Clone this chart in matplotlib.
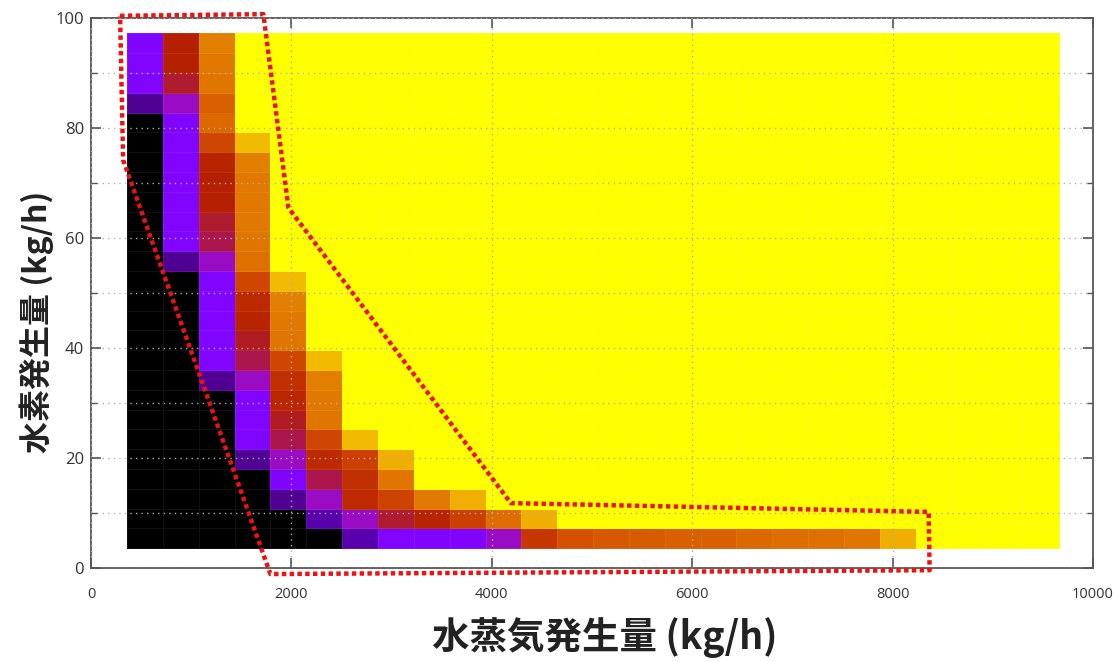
import matplotlib
matplotlib.use("Agg")
import matplotlib.pyplot as plt
import numpy as np

# bin edges of the map (steam kg/h, hydrogen kg/h)
steam_edges = [360, 718, 1075, 1433, 1791, 2148, 2506, 2864, 3222, 3579, 3937,
               4295, 4652, 5010, 5368, 5726, 6083, 6441, 6799, 7156, 7514,
               7872, 8229, 8587, 8945, 9303, 9660]
hydrogen_edges = [3.6, 7.2, 10.8, 14.4, 18.0, 21.6, 25.2, 28.8, 32.4, 36.0,
                  39.6, 43.2, 46.8, 50.4, 54.0, 57.6, 61.2, 64.8, 68.4, 72.0,
                  75.6, 79.2, 82.8, 86.4, 90.0, 93.6, 97.2]

# palette level of each cell, per steam column, listed from the lowest hydrogen
# row upward; rows not listed are at the top of the palette (yellow)
col_levels = [
    [0] * 22 + [0.1, 0.25, 0.25, 0.25],
    [0] * 14 + [0.1] + [0.25] * 7 + [0.36, 0.47, 0.5, 0.5],
    [0] * 8 + [0.1] + [0.25] * 5 + [0.36, 0.45, 0.47, 0.5, 0.5, 0.52, 0.65,
                                    0.74, 0.72, 0.77, 0.78, 0.79],
    [0] * 4 + [0.1] + [0.25] * 3 + [0.36, 0.45, 0.48, 0.52, 0.55, 0.65, 0.76,
                                    0.77, 0.78, 0.78, 0.78, 0.79, 0.9],
    [0, 0, 0.1, 0.25, 0.36, 0.45, 0.48, 0.53, 0.57, 0.65, 0.77, 0.78, 0.79, 0.9],
    [0, 0.12, 0.36, 0.45, 0.55, 0.65, 0.77, 0.78, 0.79, 0.9],
    [0.12, 0.36, 0.55, 0.57, 0.63, 0.9],
    [0.25, 0.47, 0.64, 0.77, 0.88],
    [0.25, 0.52, 0.78],
    [0.25, 0.63, 0.88],
    [0.36, 0.75],
    [0.6, 0.88],
    [0.68],
    [0.7],
    [0.71],
    [0.72],
    [0.72],
    [0.74],
    [0.75],
    [0.76],
    [0.77],
    [0.88],
    [], [], [], [],
]

# hand-drawn dotted outline (steam, hydrogen)
outline_steam = [290, 1720, 1970, 4190, 8360, 8370, 1790, 320, 290]
outline_h2 = [100.4, 100.7, 65.5, 11.8, 10.2, -0.4, -1.1, 74.2, 100.4]

n_rows = len(hydrogen_edges) - 1
grid = np.ones((n_rows, len(col_levels)))
for j, col in enumerate(col_levels):
    grid[:len(col), j] = col

plt.rcParams["font.family"] = ["Open Sans", "DejaVu Sans"]

fig = plt.figure(figsize=(11.13, 6.62), dpi=100)
ax = fig.add_axes([0.0818, 0.142, 0.9002, 0.8308])

ax.pcolormesh(steam_edges, hydrogen_edges, grid, cmap="gnuplot", vmin=0, vmax=1,
              edgecolors=(1, 1, 1, 0.07), linewidth=0.6, zorder=1)

ax.set_xlim(0, 10000)
ax.set_ylim(0, 100)
ax.set_xticks(np.arange(0, 10001, 2000))
ax.set_yticks(np.arange(0, 101, 20))
ax.set_yticks(np.arange(10, 100, 20), minor=True)

ax.grid(True, which="both", color="#b0b0b0", linestyle=(0, (1, 3)), linewidth=1.0)
ax.grid(False, which="minor", axis="x")
ax.set_axisbelow(False)
for gl in ax.get_xgridlines() + ax.get_ygridlines():
    gl.set_zorder(2)

ax.tick_params(which="major", direction="in", length=7, width=1.2, color="#555555",
               top=True, right=True)
ax.tick_params(which="minor", direction="in", length=4, width=1.0, color="#555555",
               right=True)
ax.tick_params(axis="x", pad=14, labelsize=10.5, labelcolor="#333333")
ax.tick_params(axis="y", pad=5, labelsize=12, labelcolor="#333333")
for sp in ax.spines.values():
    sp.set_color("#555555")
    sp.set_linewidth(1.3)

ax.plot(outline_steam, outline_h2, color="#ee1111", linewidth=3.2,
        linestyle=(0, (1, 0.75)), clip_on=False, zorder=5)

cjk = ["Noto Sans CJK JP", "DejaVu Sans"]
ax.set_xlabel("水蒸気発生量 (kg/h)", family=cjk, fontsize=27, fontweight="bold",
              color="#222222")
ax.set_ylabel("水素発生量 (kg/h)", family=cjk, fontsize=23, fontweight="bold",
              color="#222222")
ax.xaxis.label.set_va("center")
ax.yaxis.label.set_va("center")
ax.xaxis.set_label_coords(0.513, -0.127)
ax.yaxis.set_label_coords(-0.054, 0.447)

fig.savefig("out.png", dpi=100, facecolor="white")
